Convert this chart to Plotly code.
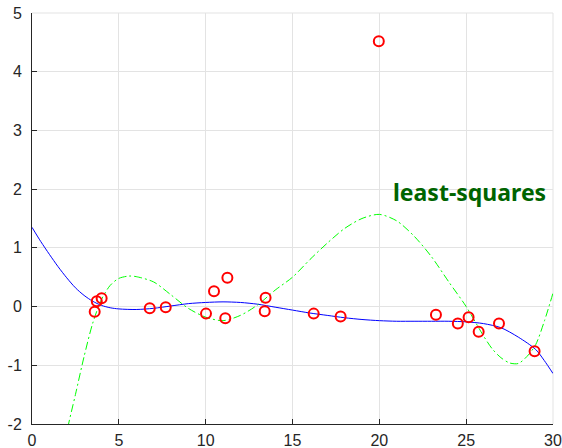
import plotly.graph_objects as go

# data points (red circles)
pts_x = [3.61, 3.73, 4.01, 6.78, 7.70, 10.02, 10.48, 11.25, 11.13, 13.45, 13.40,
         16.22, 17.77, 19.97, 23.26, 24.52, 25.14, 25.72, 26.89, 28.94]
pts_y = [-0.09, 0.09, 0.14, -0.03, -0.01, -0.12, 0.26, 0.49, -0.20, 0.15, -0.08,
         -0.12, -0.17, 4.52, -0.14, -0.29, -0.18, -0.43, -0.29, -0.76]

# robust fit curve (blue)
blue_x = [0, 0.5, 1, 1.5, 2, 2.5, 3, 3.5, 4, 4.5, 5, 6, 7, 8, 9, 10, 11, 12, 13, 14,
          15, 16, 17, 18, 19, 20, 21, 22, 23, 24, 25, 26, 27, 28, 29, 29.5, 30]
blue_y = [1.35, 1.11, 0.89, 0.68, 0.49, 0.32, 0.19, 0.09, 0.02, -0.02, -0.04, -0.05,
          -0.03, 0.01, 0.05, 0.07, 0.08, 0.07, 0.04, -0.01, -0.06, -0.11, -0.15,
          -0.19, -0.22, -0.24, -0.25, -0.25, -0.25, -0.25, -0.26, -0.29, -0.36,
          -0.52, -0.73, -0.92, -1.14]

# least-squares curve (green)
green_x = [1.8, 2.0, 2.5, 3.0, 3.5, 4.0, 4.5, 5.0, 5.6, 6.0, 7.0, 8.0, 9.0, 10.0, 11.0,
           12.0, 13.0, 14.0, 15.0, 16.0, 17.0, 18.0, 19.0, 20.0, 21.0, 22.0, 23.0,
           24.0, 25.0, 26.0, 26.5, 27.0, 27.5, 28.0, 28.5, 29.0, 29.5, 30.0]
green_y = [-2.6, -2.15, -1.5, -0.85, -0.28, 0.12, 0.36, 0.48, 0.52, 0.51, 0.42, 0.2,
           -0.03, -0.18, -0.24, -0.15, 0.03, 0.28, 0.5, 0.8, 1.08, 1.33, 1.5, 1.57,
           1.46, 1.2, 0.85, 0.42, 0.0, -0.5, -0.72, -0.87, -0.96, -0.97, -0.85,
           -0.65, -0.25, 0.23]

label_text = "least-squares"
label_x, label_y = 20.65, 1.95

x_ticks = [0, 5, 10, 15, 20, 25, 30]
x_tick_labels = ["0", "5", "10", "15", "20", "25", "30"]
y_ticks = [-2, -1, 0, 1, 2, 3, 4, 5]
y_tick_labels = ["-2", "-1", "0", "1", "2", "3", "4", "5"]

fig = go.Figure()
fig.add_trace(go.Scatter(x=blue_x, y=blue_y, mode="lines",
                         line=dict(color="#0000ff", width=1, shape="spline", smoothing=0.8),
                         showlegend=False, hoverinfo="skip"))
fig.add_trace(go.Scatter(x=green_x, y=green_y, mode="lines",
                         line=dict(color="#00ff00", width=1, dash="8px,3px,2px,3px",
                                   shape="spline", smoothing=0.8),
                         showlegend=False, hoverinfo="skip"))
fig.add_trace(go.Scatter(x=pts_x, y=pts_y, mode="markers",
                         marker=dict(symbol="circle-open", size=10, color="#ff0000",
                                     line=dict(width=2, color="#ff0000")),
                         showlegend=False))
fig.add_annotation(x=label_x, y=label_y, text="<b>" + label_text + "</b>",
                   showarrow=False, xanchor="left", yanchor="middle",
                   font=dict(family="Noto Sans", size=23, color="#006400"))

# light frame on top and right edges (like the grid box of the reference)
fig.add_shape(type="line", xref="paper", yref="paper", x0=0, x1=1, y0=1, y1=1,
              line=dict(color="#e3e3e3", width=1), layer="below")
fig.add_shape(type="line", xref="paper", yref="paper", x0=1, x1=1, y0=0, y1=1,
              line=dict(color="#e3e3e3", width=1), layer="below")

axis_common = dict(showgrid=True, gridcolor="#e3e3e3", gridwidth=1,
                   showline=True, linecolor="#262626", linewidth=1,
                   ticks="inside", ticklen=5, tickcolor="#262626",
                   zeroline=False, automargin=False,
                   tickfont=dict(family="Liberation Sans", size=16, color="#262626"))
fig.update_xaxes(range=[0, 30], tickvals=x_ticks, ticktext=x_tick_labels,
                 ticklabelstandoff=2, **axis_common)
fig.update_yaxes(range=[-2, 5], tickvals=y_ticks, ticktext=y_tick_labels,
                 ticklabelstandoff=6, **axis_common)
fig.update_layout(width=562, height=448,
                  margin=dict(l=32, r=9, t=13, b=24),
                  plot_bgcolor="white", paper_bgcolor="white")
fig.write_html("out.html", config={"displayModeBar": False},
               post_script="document.body.style.margin='0';document.body.style.overflow='hidden';")
